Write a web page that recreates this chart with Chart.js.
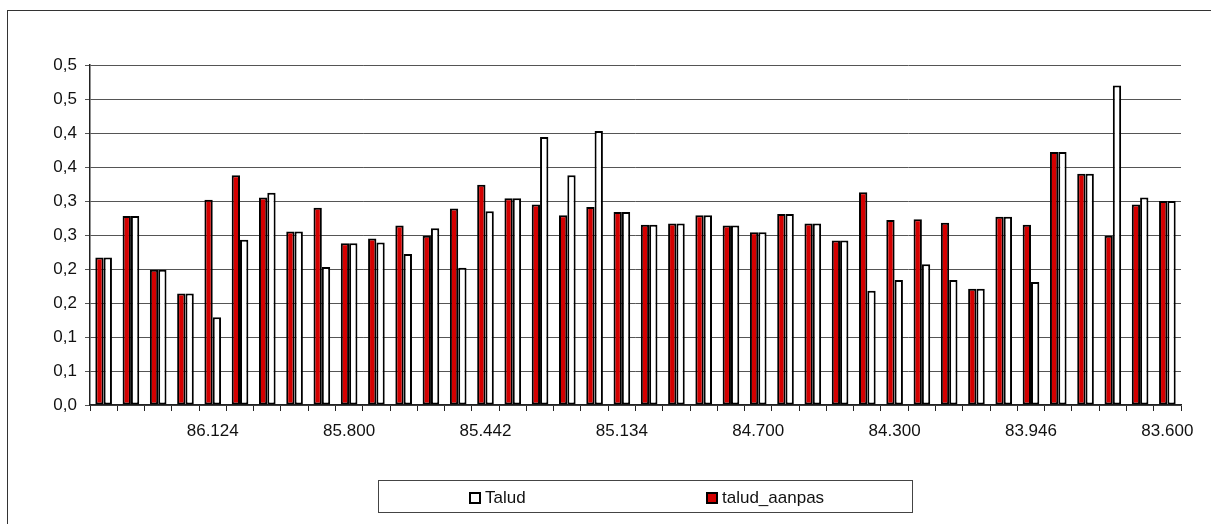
<!DOCTYPE html>
<html>
<head>
<meta charset="utf-8">
<script src="https://cdn.jsdelivr.net/npm/chart.js@4.4.0/dist/chart.umd.min.js"></script>
<style>
    html, body { margin: 0; padding: 0; background: #fff; }
    body { width: 1211px; height: 524px; position: relative; overflow: hidden; font-family: 'Liberation Sans', Arial, sans-serif; }
    #frame { position: absolute; left: 7px; top: 10px; width: 1300px; height: 600px; border-left: 1.5px solid #333; border-top: 1.5px solid #333; }
    #chartWrap { position: absolute; left: 0; top: 0; width: 1211px; height: 524px; }
    #legend { position: absolute; left: 378px; top: 480px; width: 535px; height: 33px; border: 1.5px solid #444; box-sizing: border-box; }
    .lg-item { position: absolute; top: 7px; font-size: 17px; color: #111; display: flex; align-items: center; }
    .lg-box { width: 8px; height: 8px; border: 2px solid #000; margin-right: 4px; }
</style>
</head>
<body>
<div id="frame"></div>
<div id="chartWrap"><canvas id="barChart" width="1211" height="524"></canvas></div>
<div id="legend">
    <div class="lg-item" style="left:90px"><div class="lg-box" style="background:#fff"></div>Talud</div>
    <div class="lg-item" style="left:327px"><div class="lg-box" style="background:#d40000"></div>talud_aanpas</div>
</div>
<script>
// only every 5th category label is printed on the axis
const categories = [
    '', '', '', '', '86.124', '', '', '', '', '85.800',
    '', '', '', '', '85.442', '', '', '', '', '85.134',
    '', '', '', '', '84.700', '', '', '', '', '84.300',
    '', '', '', '', '83.946', '', '', '', '', '83.600',
];

const taludAanpas = [
    0.217, 0.278, 0.199, 0.164, 0.302, 0.338, 0.305, 0.255, 0.290, 0.238,
    0.245, 0.264, 0.249, 0.289, 0.324, 0.304, 0.295, 0.279, 0.291, 0.284,
    0.265, 0.267, 0.279, 0.264, 0.254, 0.281, 0.267, 0.242, 0.313, 0.272,
    0.273, 0.268, 0.171, 0.277, 0.265, 0.372, 0.340, 0.249, 0.295, 0.300,
];

const talud = [
    0.217, 0.278, 0.199, 0.164, 0.129, 0.243, 0.312, 0.255, 0.203, 0.238,
    0.239, 0.222, 0.260, 0.202, 0.285, 0.304, 0.394, 0.338, 0.403, 0.284,
    0.265, 0.267, 0.279, 0.264, 0.254, 0.281, 0.267, 0.242, 0.168, 0.184,
    0.207, 0.184, 0.171, 0.277, 0.181, 0.372, 0.340, 0.470, 0.305, 0.300,
];

const yMin = 0;
const yMax = 0.5;
const yStep = 0.05;

function yLabel(v) {
    return (Math.round(v * 10 + 1e-9) / 10).toFixed(1).replace('.', ',');
}

Chart.defaults.font.family = "'Liberation Sans', Arial, sans-serif";
Chart.defaults.font.size = 17;
Chart.defaults.color = '#111';

new Chart(document.getElementById('barChart'), {
    type: 'bar',
    data: {
        labels: categories,
        datasets: [
            { label: 'talud_aanpas', data: taludAanpas, backgroundColor: '#d40000', borderColor: '#000', borderWidth: 2, borderSkipped: false },
            { label: 'Talud', data: talud, backgroundColor: '#fff', borderColor: '#000', borderWidth: 2, borderSkipped: false },
        ],
    },
    options: {
        responsive: false,
        animation: false,
        layout: { padding: { top: 65, right: 30, left: 0, bottom: 0 } },
        datasets: { bar: { categoryPercentage: 0.61, barPercentage: 1.0 } },
        plugins: { legend: { display: false }, tooltip: { enabled: false } },
        scales: {
            x: {
                grid: { offset: true, drawOnChartArea: false, drawTicks: true, tickLength: 6, color: '#222' },
                border: { color: '#222', width: 1.5 },
                ticks: { autoSkip: false, maxRotation: 0, padding: 10, color: '#111' },
                afterFit: s => { s.height = 119; },
            },
            y: {
                min: yMin,
                max: yMax,
                grid: { color: '#555', lineWidth: 1, tickLength: 5 },
                border: { color: '#222', width: 1.5 },
                ticks: { stepSize: yStep, padding: 8, color: '#111', callback: v => yLabel(v) },
                afterFit: s => { s.width = 90; },
            },
        },
    },
});
</script>
</body>
</html>
